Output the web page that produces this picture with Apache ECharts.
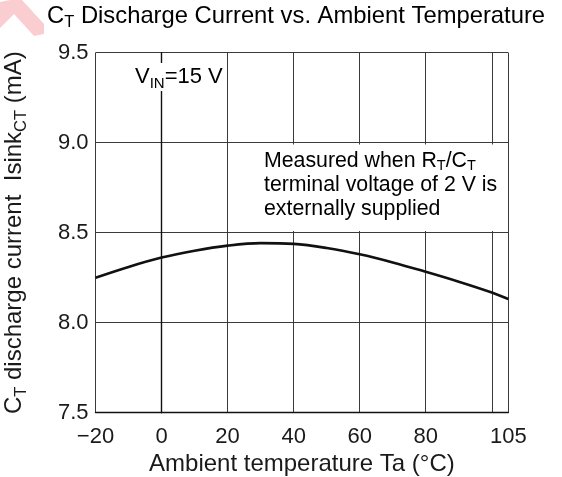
<!DOCTYPE html>
<html><head><meta charset="utf-8">
<script src="https://cdn.jsdelivr.net/npm/echarts@6/dist/echarts.min.js"></script>
<style>html,body{margin:0;padding:0;background:#fff;}#c{width:562px;height:477px;}</style>
</head><body><div id="c"></div>
<script>
// Data
var temps = [-20, -10, 0, 10, 20, 30, 40, 50, 60, 70, 80, 90, 100, 105];
var currents = [8.25, 8.31, 8.362, 8.40, 8.428, 8.442, 8.438, 8.415, 8.38, 8.335, 8.283, 8.228, 8.168, 8.132];
var xMin = -20, xMax = 105, xStep = 20;
var yMin = 7.5, yMax = 9.5, yStep = 0.5;
var hiddenXLabels = [100];

var FONT = 'Liberation Sans, Arial, sans-serif';
var INK = '#1a1a1a';
var chart = echarts.init(document.getElementById('c'), null, {renderer: 'canvas'});
function sub(fs) { return {fontSize: fs, fontFamily: FONT, color: INK, verticalAlign: 'bottom', lineHeight: fs}; }
function base(fs, lh) { return {fontSize: fs, fontFamily: FONT, color: INK, lineHeight: lh, verticalAlign: 'middle'}; }

chart.setOption({
  backgroundColor: '#fff',
  animation: false,
  grid: {left: 95.5, right: 53.7, top: 52.7, bottom: 64.3, containLabel: false, outerBoundsMode: 'none'},
  xAxis: {
    type: 'value', min: xMin, max: xMax, interval: xStep,
    name: 'Ambient temperature Ta (°C)', nameLocation: 'middle', nameGap: 35,
    nameTextStyle: {fontSize: 24, fontFamily: FONT, color: INK},
    axisLine: {show: true, lineStyle: {color: '#111', width: 1.4}},
    axisTick: {show: false},
    axisLabel: {
      margin: 13, fontSize: 22, fontFamily: FONT, color: INK,
      formatter: function (v) { if (hiddenXLabels.indexOf(v) >= 0) return ''; return String(v).replace('-', '\u2212'); }
    },
    splitLine: {show: true, lineStyle: {color: '#3a3a3a', width: 1}}
  },
  yAxis: {
    type: 'value', min: yMin, max: yMax, interval: yStep,
    name: '{b|C}{s|T}{b| discharge current  Isink}{s|CT}{b| (mA)}', nameLocation: 'middle', nameGap: 66, nameRotate: 90,
    nameTextStyle: {
      fontSize: 24, fontFamily: FONT, color: INK,
      rich: {b: base(24, 30), s: sub(16.5)}
    },
    axisLine: {show: true, lineStyle: {color: '#111', width: 1.4}},
    axisTick: {show: false},
    axisLabel: {margin: 7, fontSize: 22, fontFamily: FONT, color: INK, formatter: function (v) { return v.toFixed(1); }},
    splitLine: {show: true, lineStyle: {color: '#3a3a3a', width: 1}}
  },
  graphic: [
    {type: 'polygon', z: 0, shape: {points: [[0,2],[10,0],[22,0],[44,24],[44,34],[34,36],[14,14],[0,28]]}, style: {fill: 'rgba(242,130,140,0.4)'}},
    {type: 'text', left: 47, top: 4, style: {
      text: '{b|C}{s|T}{b| Discharge Current vs. Ambient Temperature}',
      rich: {b: base(23.8, 30), s: sub(16.5)}
    }},
    {type: 'rect', z: 50, shape: {x: 256, y: 144.5, width: 251, height: 86.5}, style: {fill: '#fff'}},
    {type: 'text', z: 60, left: 133, top: 63, style: {
      text: '{b|V}{s|IN}{b|=15 V}',
      backgroundColor: '#fff', padding: [0, 2, 0, 2],
      rich: {b: base(22, 28), s: sub(15)}
    }},
    {type: 'text', z: 60, left: 264, top: 151, style: {
      text: '{b|Measured when R}{s|T}{b|/C}{s|T}\n{b|terminal voltage of 2 V is}\n{b|externally supplied}',
      rich: {b: base(21.3, 24), s: sub(14.5)}
    }}
  ],
  series: [{
    type: 'line', data: temps.map(function (t, i) { return [t, currents[i]]; }),
    smooth: 0.35, showSymbol: false, lineStyle: {color: '#111', width: 2.6}, z: 5
  }]
});
</script></body></html>
